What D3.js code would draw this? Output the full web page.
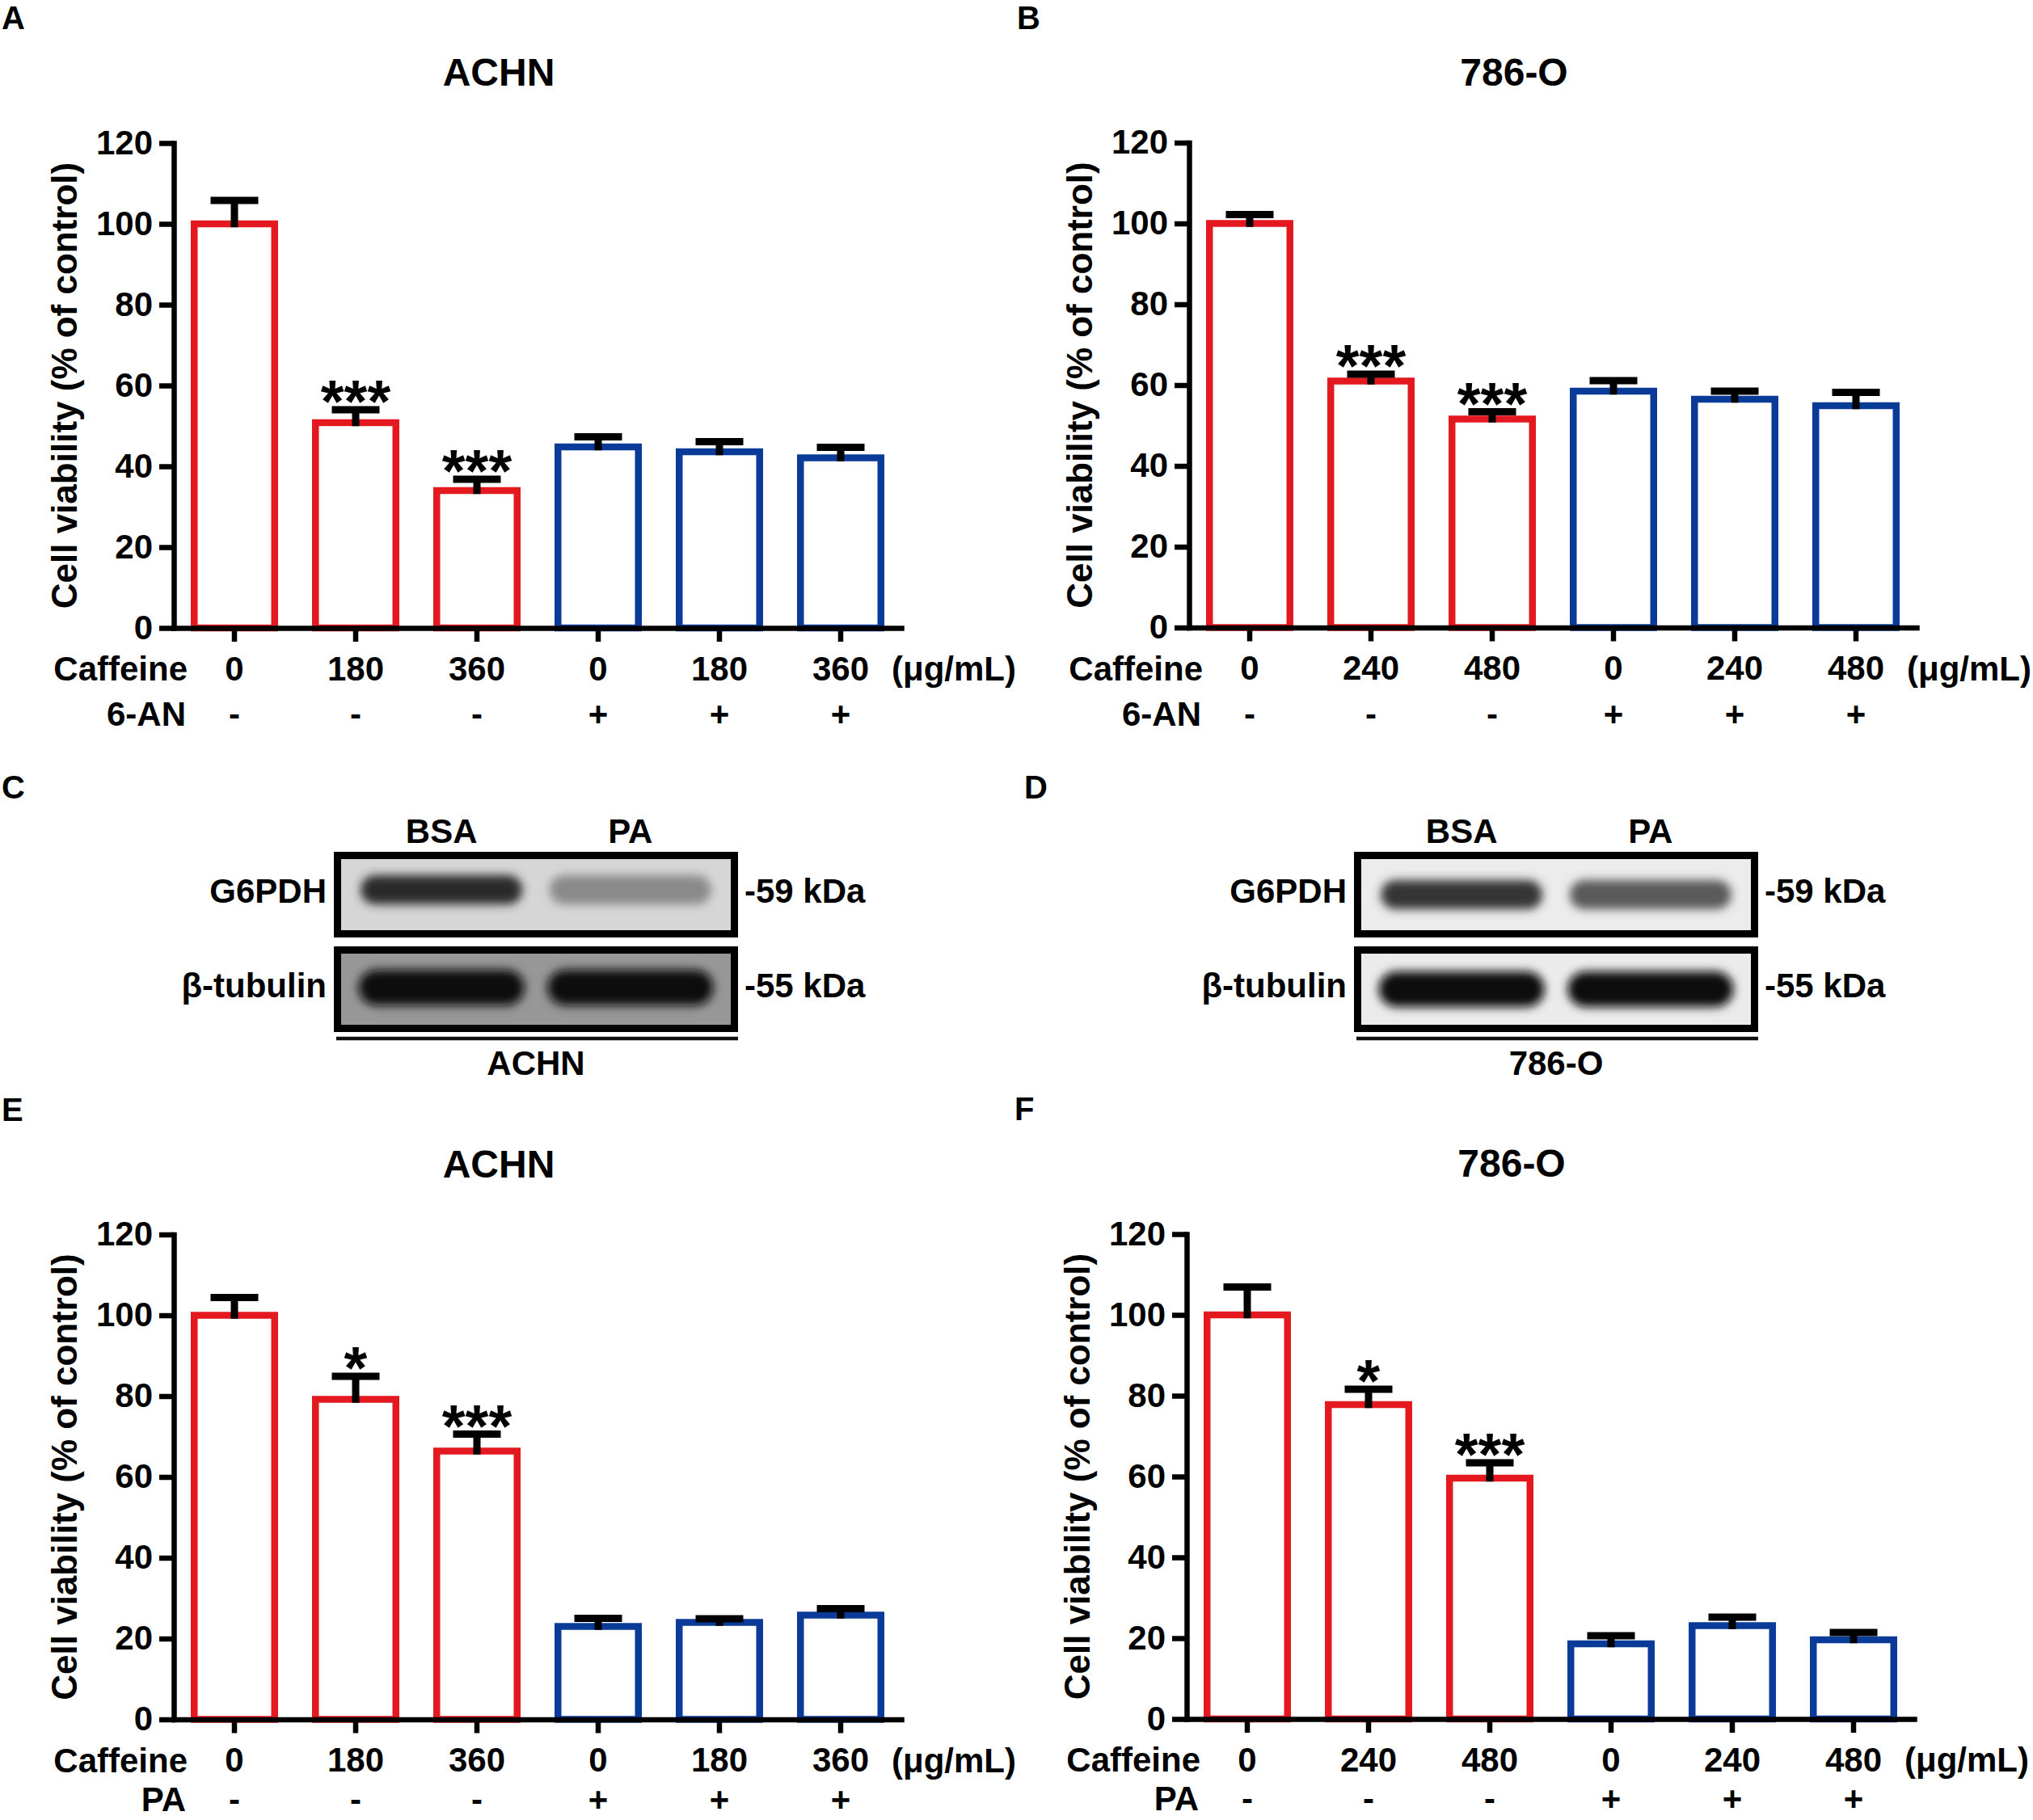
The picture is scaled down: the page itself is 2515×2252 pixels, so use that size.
<!DOCTYPE html>
<html>
<head>
<meta charset="utf-8">
<script src="https://cdn.jsdelivr.net/npm/d3@7"></script>
<style>
  body { margin: 0; background: #fff; }
  text { font-family: "Liberation Sans", Arial, sans-serif; font-weight: bold; fill: #000; }
</style>
</head>
<body>
<div id="fig"></div>
<script>
// ---- data ----
var dosesACHN = ["0", "180", "360", "0", "180", "360"]
var doses786 = ["0", "240", "480", "0", "240", "480"]
var signs = ["-", "-", "-", "+", "+", "+"]
var yTicks = [0, 20, 40, 60, 80, 100, 120]

// A: ACHN + 6-AN
var meanA = [100, 50.8, 34, 44.8, 43.6, 42.1]
var sdA = [5.8, 3.2, 2.8, 2.5, 2.5, 2.6]
var sigA = ["", "***", "***", "", "", ""]
// B: 786-O + 6-AN
var meanB = [100, 61, 51.6, 58.5, 56.5, 54.9]
var sdB = [2.2, 1.7, 1.8, 2.6, 2.0, 3.3]
var sigB = ["", "***", "***", "", "", ""]
// E: ACHN + PA
var meanE = [100, 79.2, 66.4, 23, 24, 25.8]
var sdE = [4.4, 5.7, 4.2, 2.0, 0.9, 1.6]
var sigE = ["", "*", "***", "", "", ""]
// F: 786-O + PA
var meanF = [100, 77.8, 59.6, 18.6, 23.1, 19.6]
var sdF = [6.9, 3.8, 3.8, 2.0, 2.1, 1.8]
var sigF = ["", "*", "***", "", "", ""]

// western blots (C, D): relative band darkness 0..1
var blotLanes = ["BSA", "PA"]
var blotRows = ["G6PDH", "β-tubulin"]
var blotMarkers = ["-59 kDa", "-55 kDa"]
var g6pdhACHN = [0.84, 0.37]
var tubulinACHN = [1, 1]
var g6pdh786 = [0.8, 0.64]
var tubulin786 = [1, 1]

var width = 2515
var height = 2252
var red = "#E3191F"
var blue = "#0B3B98"
var barColors = [red, red, red, blue, blue, blue]

var svg = d3.select("#fig")
    .append("svg")
    .attr("width", width)
    .attr("height", height)

svg.append("rect").attr("width", width).attr("height", height).attr("fill", "#fff")

var defs = svg.append("defs")
defs.append("filter")
    .attr("id", "blur")
    .attr("x", "-30%").attr("y", "-60%").attr("width", "160%").attr("height", "220%")
    .append("feGaussianBlur").attr("stdDeviation", 6)

// one bar chart panel
function barPanel(o) {
    var g = svg.append("g")
    var x = d3.scaleBand()
        .domain(d3.range(6))
        .range([o.left, o.left + 900])
        .paddingInner(0.28)
        .paddingOuter(0.14)
    var y = d3.scaleLinear().domain([0, 120]).range([o.zero, o.zero - 600])
    var sw = 8.5

    // bars
    g.selectAll(".bar")
        .data(o.mean)
        .enter()
        .append("rect")
        .attr("x", function(d, i) { return x(i) + sw / 2 })
        .attr("width", x.bandwidth() - sw)
        .attr("y", function(d) { return y(d) })
        .attr("height", function(d) { return y(0) - y(d) })
        .attr("fill", "none")
        .attr("stroke", function(d, i) { return barColors[i] })
        .attr("stroke-width", sw)

    // error bars (upper only)
    var err = g.selectAll(".err")
        .data(o.mean)
        .enter()
        .append("g")
    err.append("line")
        .attr("x1", function(d, i) { return x(i) + x.bandwidth() / 2 })
        .attr("x2", function(d, i) { return x(i) + x.bandwidth() / 2 })
        .attr("y1", function(d) { return y(d) + sw / 2 })
        .attr("y2", function(d, i) { return y(d + o.sd[i]) })
        .attr("stroke", "#000")
        .attr("stroke-width", 9)
    err.append("line")
        .attr("x1", function(d, i) { return x(i) + x.bandwidth() / 2 - 29.5 })
        .attr("x2", function(d, i) { return x(i) + x.bandwidth() / 2 + 29.5 })
        .attr("y1", function(d, i) { return y(d + o.sd[i]) })
        .attr("y2", function(d, i) { return y(d + o.sd[i]) })
        .attr("stroke", "#000")
        .attr("stroke-width", 9)

    // significance stars
    g.selectAll(".sig")
        .data(o.sig)
        .enter()
        .append("text")
        .attr("x", function(d, i) { return x(i) + x.bandwidth() / 2 })
        .attr("y", function(d, i) { return y(o.mean[i] + o.sd[i]) + 15 })
        .attr("text-anchor", "middle")
        .style("font-size", "74px")
        .text(function(d) { return d })

    // y axis
    g.append("g")
        .attr("transform", "translate(" + o.left + ",0)")
        .call(d3.axisLeft(y).tickValues(yTicks).tickSize(18).tickSizeOuter(0).tickPadding(8))
    // x axis with caffeine doses as labels
    g.append("g")
        .attr("transform", "translate(0," + o.zero + ")")
        .call(d3.axisBottom(x).tickSize(17).tickSizeOuter(0).tickPadding(18)
            .tickFormat(function(i) { return o.doses[i] }))
    g.selectAll(".domain")
        .attr("stroke", "#000")
        .attr("stroke-width", 6.5)
        .attr("stroke-linecap", "square")
    g.selectAll(".tick line").attr("stroke", "#000").attr("stroke-width", 6.5)
    g.selectAll(".tick text")
        .attr("fill", "#000")
        .style("font-size", "42px")
        .style("font-family", "'Liberation Sans', Arial, sans-serif")
        .style("font-weight", "bold")

    // treatment rows
    g.append("text")
        .attr("x", o.left + 17).attr("y", o.zero + 65)
        .attr("text-anchor", "end")
        .style("font-size", "42px")
        .text("Caffeine")
    g.append("text")
        .attr("x", o.left + 888).attr("y", o.zero + 65)
        .style("font-size", "42px")
        .text("(μg/mL)")
    g.append("text")
        .attr("x", o.left + 15).attr("y", o.zero + o.rowGap)
        .attr("text-anchor", "end")
        .style("font-size", "42px")
        .text(o.agent)
    g.selectAll(".sign")
        .data(signs)
        .enter()
        .append("text")
        .attr("x", function(d, i) { return x(i) + x.bandwidth() / 2 })
        .attr("y", o.zero + o.rowGap)
        .attr("text-anchor", "middle")
        .style("font-size", "42px")
        .text(function(d) { return d })

    // titles
    g.append("text")
        .attr("x", o.left + 402).attr("y", o.zero - 671)
        .attr("text-anchor", "middle")
        .style("font-size", "48px")
        .text(o.title)
    g.append("text")
        .attr("transform", "translate(" + (o.left - 135) + "," + (o.zero - 300) + ") rotate(-90)")
        .attr("text-anchor", "middle")
        .attr("dy", "0.35em")
        .style("font-size", "44px")
        .text("Cell viability (% of control)")
    g.append("text")
        .attr("x", o.left - 213).attr("y", o.zero - 741)
        .style("font-size", "40px")
        .text(o.letter)
}

// one western blot panel
function blotPanel(o) {
    var g = svg.append("g")
    var boxW = 500
    var lane = d3.scalePoint().domain(blotLanes).range([o.left, o.left + boxW]).padding(0.57)
    var rowY = d3.scalePoint().domain(blotRows).range([1107, 1224])
    var boxH = 106
    var bandW = [200, 205]
    var bandH = [36, 44]
    var intensity = [o.g6pdh, o.tubulin]

    blotRows.forEach(function(row, r) {
        var cy = rowY(row)
        var clipId = "clip" + o.letter + r
        defs.append("clipPath").attr("id", clipId)
            .append("rect")
            .attr("x", o.left).attr("y", cy - boxH / 2)
            .attr("width", boxW).attr("height", boxH)
        var inner = g.append("g").attr("clip-path", "url(#" + clipId + ")")
        inner.append("rect")
            .attr("x", o.left).attr("y", cy - boxH / 2)
            .attr("width", boxW).attr("height", boxH)
            .attr("fill", o.bg[r])
        var shade = d3.interpolateRgb(o.bg[r], "#080808")
        inner.selectAll(".band")
            .data(intensity[r])
            .enter()
            .append("rect")
            .attr("x", function(d, i) { return lane(blotLanes[i]) - bandW[r] / 2 })
            .attr("y", cy - bandH[r] / 2 + o.bandShift[r])
            .attr("width", bandW[r])
            .attr("height", bandH[r])
            .attr("rx", bandH[r] / 2)
            .attr("fill", function(d) { return shade(d) })
            .attr("filter", "url(#blur)")
        g.append("rect")
            .attr("x", o.left + 4.5).attr("y", cy - boxH / 2 + 4.5)
            .attr("width", boxW - 9).attr("height", boxH - 9)
            .attr("fill", "none")
            .attr("stroke", "#000")
            .attr("stroke-width", 9)
        g.append("text")
            .attr("x", o.left - 9).attr("y", cy + 10)
            .attr("text-anchor", "end")
            .style("font-size", "42px")
            .text(row)
        g.append("text")
            .attr("x", o.left + boxW + 8).attr("y", cy + 10)
            .style("font-size", "42px")
            .text(blotMarkers[r])
    })

    g.selectAll(".lane")
        .data(blotLanes)
        .enter()
        .append("text")
        .attr("x", function(d) { return lane(d) })
        .attr("y", 1043)
        .attr("text-anchor", "middle")
        .style("font-size", "42px")
        .text(function(d) { return d })

    g.append("line")
        .attr("x1", o.left + 3).attr("x2", o.left + boxW)
        .attr("y1", 1285).attr("y2", 1285)
        .attr("stroke", "#111").attr("stroke-width", 4.5)
    g.append("text")
        .attr("x", o.left + boxW / 2).attr("y", 1330)
        .attr("text-anchor", "middle")
        .style("font-size", "42px")
        .text(o.cell)
    g.append("text")
        .attr("x", o.letterX).attr("y", 988)
        .style("font-size", "40px")
        .text(o.letter)
}

barPanel({ left: 215, zero: 777, rowGap: 121, mean: meanA, sd: sdA, sig: sigA, doses: dosesACHN, agent: "6-AN", title: "ACHN", letter: "A" })
barPanel({ left: 1471, zero: 776.5, rowGap: 121, mean: meanB, sd: sdB, sig: sigB, doses: doses786, agent: "6-AN", title: "786-O", letter: "B" })
barPanel({ left: 215, zero: 2127.5, rowGap: 113, mean: meanE, sd: sdE, sig: sigE, doses: dosesACHN, agent: "PA", title: "ACHN", letter: "E" })
barPanel({ left: 1468, zero: 2127, rowGap: 113, mean: meanF, sd: sdF, sig: sigF, doses: doses786, agent: "PA", title: "786-O", letter: "F" })

blotPanel({ left: 413, letter: "C", letterX: 2, cell: "ACHN", g6pdh: g6pdhACHN, tubulin: tubulinACHN,
    bg: ["#d6d6d6", "#979797"], bandShift: [-6, -2] })
blotPanel({ left: 1675, letter: "D", letterX: 1267, cell: "786-O", g6pdh: g6pdh786, tubulin: tubulin786,
    bg: ["#ececec", "#ebebeb"], bandShift: [0, 0] })
</script>
</body>
</html>
